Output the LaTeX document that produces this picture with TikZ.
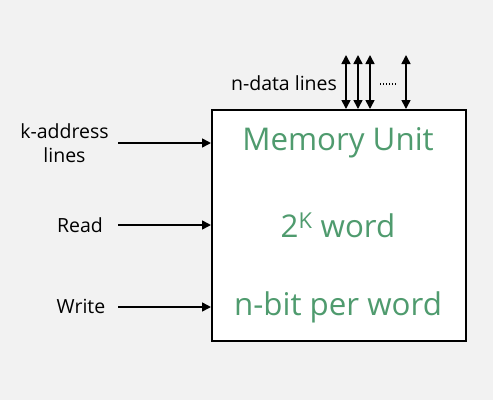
\documentclass[tikz,border=0pt]{standalone}
\usepackage{fontspec}
\setmainfont{Open Sans}
\usetikzlibrary{arrows.meta}
\definecolor{bg}{HTML}{F2F2F2}
\definecolor{grn}{HTML}{4F9B6E}
\begin{document}
\begin{tikzpicture}[x=1pt,y=-1pt,
  lbl/.style={font=\fontsize{19.5}{24.5}\selectfont, text=black, inner sep=0pt, align=center},
  inner/.style={font=\fontsize{31.3}{36}\selectfont, text=grn, inner sep=0pt},
  arr/.style={line width=1.6pt, -{Triangle[length=9pt,width=9pt]}},
  darr/.style={line width=1.6pt, {Triangle[length=9pt,width=9pt]}-{Triangle[length=9pt,width=9pt]}}]
\fill[bg] (0,0) rectangle (493,400);
\useasboundingbox (0,0) rectangle (493,400);
\node[draw=black, line width=2pt, fill=white, minimum width=254pt, minimum height=231pt, anchor=north west, inner sep=0pt] (mem) at (211,109) {};
\node[inner] (t1) at (338,143) {Memory Unit};
\node[inner] (t2) at (338,225) {2\textsuperscript{K} word};
\node[inner] (t3) at (338,307) {n-bit per word};
\node[lbl] (ka) at (64.5,143) {k-address\\lines};
\node[lbl] (rd) at (80,225) {Read};
\node[lbl] (wr) at (81,306) {Write};
\node[lbl] (nd) at (284,83) {n-data lines};
\coordinate (a1) at (118,143);
\coordinate (a2) at (118,225);
\coordinate (a3) at (118,307);
\draw[arr] (a1) -- (mem.west |- a1);
\draw[arr] (a2) -- (mem.west |- a2);
\draw[arr] (a3) -- (mem.west |- a3);
\foreach \i/\x in {1/346,2/358,3/370,4/406} {
  \coordinate (d\i) at (\x,55);
  \draw[darr] (d\i) -- (d\i |- mem.north);
}
\coordinate (dots1) at (380,84);
\coordinate (dots2) at (397,84);
\draw[line width=1.2pt, dash pattern=on 1pt off 2pt] (dots1) -- (dots2);
\end{tikzpicture}
\end{document}
